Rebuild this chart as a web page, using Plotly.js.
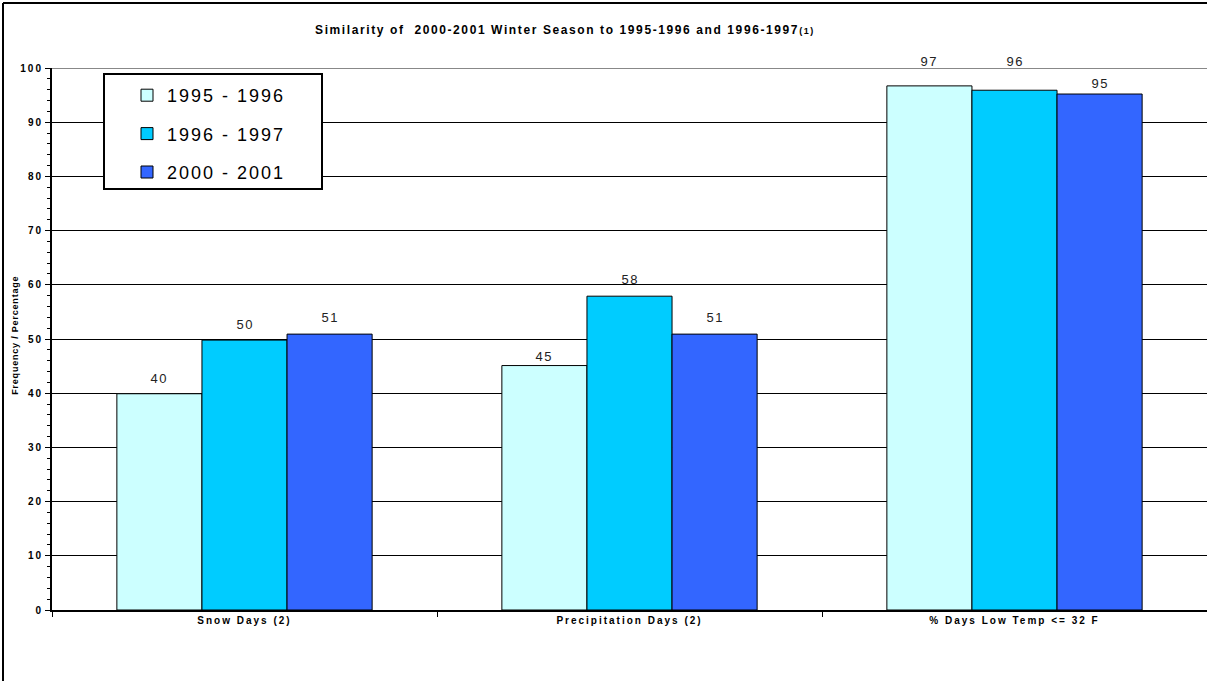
<!DOCTYPE html>
<html>
<head>
<meta charset="utf-8">
<script src="https://cdn.plot.ly/plotly-3.0.1.min.js"></script>
<style>
html,body{margin:0;padding:0;background:#fff;overflow:hidden;}
#chart{width:1207px;height:681px;}
#chart .gtitle{letter-spacing:1.6px;}
#chart .xtick text{letter-spacing:2px;}
#chart .ytick text{letter-spacing:2px;}
#chart .legendtext{letter-spacing:2px;}
#chart .legend .scrollbox{clip-path:none !important;}
#chart .annotation-text{letter-spacing:1.5px;}
#chart .ytitle-ann .annotation-text{letter-spacing:0.8px;}
</style>
</head>
<body>
<div id="chart"></div>
<script>
var categories = ["Snow Days (2)", "Precipitation Days (2)", "% Days Low Temp <= 32 F"];
var seriesNames = ["1995 - 1996", "1996 - 1997", "2000 - 2001"];
var values1995 = [39.9, 45.1, 96.7];
var values1996 = [49.8, 57.9, 95.9];
var values2000 = [50.9, 50.9, 95.2];
var labels1995 = ["40", "45", "97"];
var labels1996 = ["50", "58", "96"];
var labels2000 = ["51", "51", "95"];
var colors = ["#CCFFFF", "#00CCFF", "#3366FF"];
var yTicks = [0,10,20,30,40,50,60,70,80,90,100];

var allVals = [values1995, values1996, values2000];
var allLabels = [labels1995, labels1996, labels2000];
var font = "Arial, 'Liberation Sans', sans-serif";

// label lift above each bar in px (series x category), as placed in the original
var labelLift = [[6, 0, 15], [6, 7, 19], [7, 7, 1]];

var traces = allVals.map(function(v, i){
  return {
    type: 'bar',
    name: seriesNames[i],
    x: categories,
    y: v,
    marker: {color: colors[i], line: {color: '#000', width: 1}},
    legendgroup: 'g' + i,
    hoverinfo: 'none'
  };
});

var L = 52, W = 1207, T = 68, B = 71, H = 681;
var pw = W - L, ph = H - T - B;
function px(x){ return (x - L) / pw; }
function py(y){ return (H - B - y) / ph; }

var annotations = [{
  text: 'Frequency / Percentage', textangle: -90,
  xref: 'paper', yref: 'paper', x: px(15), y: py(335),
  xanchor: 'center', yanchor: 'middle', showarrow: false,
  font: {family: font, size: 9, color: '#000', weight: 'bold'}
}];
var bargap = 0.337;
var groupW = 1 - bargap;
allVals.forEach(function(v, i){
  v.forEach(function(val, j){
    annotations.push({
      text: allLabels[i][j],
      xref: 'x', yref: 'y',
      x: j + (-groupW / 2 + groupW / 3 * (i + 0.5)),
      y: val,
      xanchor: 'center', yanchor: 'bottom',
      yshift: labelLift[i][j],
      showarrow: false,
      font: {family: font, size: 13, color: '#222'}
    });
  });
});

var layout = {
  width: W, height: H,
  margin: {l: L, r: 0, t: T, b: B, pad: 0},
  paper_bgcolor: '#fff', plot_bgcolor: '#fff',
  barmode: 'group', bargap: bargap, bargroupgap: 0,
  title: {
    text: "Similarity of  2000-2001 Winter Season to 1995-1996 and 1996-1997<span style='font-size:9px'>(1)</span>",
    font: {family: font, size: 12, color: '#000', weight: 'bold'},
    x: 565 / W, xanchor: 'center', xref: 'container',
    y: 1 - 30 / H, yanchor: 'middle', yref: 'container'
  },
  showlegend: true,
  legend: {
    x: px(127), y: py(77), xanchor: 'left', yanchor: 'top',
    bgcolor: 'rgba(0,0,0,0)', borderwidth: 0,
    font: {family: font, size: 18, color: '#000'},
    traceorder: 'grouped', tracegroupgap: 12
  },
  xaxis: {
    type: 'category',
    showgrid: false,
    showline: true, linecolor: '#000', linewidth: 2,
    ticks: 'outside', tickson: 'boundaries', ticklen: 5, tickcolor: '#000', tickwidth: 1,
    tickfont: {family: font, size: 10, color: '#000', weight: 'bold'},
    fixedrange: true, zeroline: false
  },
  yaxis: {
    range: [0, 100],
    tickvals: yTicks,
    showgrid: true, gridcolor: '#000', gridwidth: 1,
    showline: true, linecolor: '#000', linewidth: 2,
    ticks: 'outside', ticklen: 5, tickcolor: '#000', tickwidth: 1,
    minor: {dtick: 2, ticks: 'outside', ticklen: 3, tickcolor: '#000', tickwidth: 1, showgrid: false},
    tickfont: {family: font, size: 10, color: '#000', weight: 'bold'},
    zeroline: false, fixedrange: true
  },
  annotations: annotations,
  shapes: [
    {type: 'line', xref: 'paper', yref: 'y', x0: 0, x1: 1, y0: 100, y1: 100,
     line: {color: '#888', width: 2}, layer: 'below'},
    {type: 'rect', xref: 'paper', yref: 'paper', x0: px(104), x1: px(322), y0: py(189), y1: py(74),
     fillcolor: '#fff', line: {color: '#000', width: 2}, layer: 'above'},
    {type: 'line', xref: 'paper', yref: 'paper', x0: px(3), x1: px(1220), y0: py(3), y1: py(3),
     line: {color: '#000', width: 2}, layer: 'above'},
    {type: 'line', xref: 'paper', yref: 'paper', x0: px(3), x1: px(3), y0: py(3), y1: py(700),
     line: {color: '#000', width: 2}, layer: 'above'}
  ]
};

Plotly.newPlot('chart', traces, layout, {displayModeBar: false, staticPlot: true}).then(function(){
  var anns = document.querySelectorAll('#chart .annotation');
  if (anns.length) anns[0].classList.add('ytitle-ann');
});
</script>
</body>
</html>
